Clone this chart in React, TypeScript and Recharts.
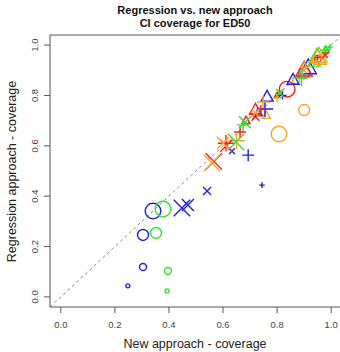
import React from 'react';
import { ScatterChart, Scatter, XAxis, YAxis, ReferenceLine } from 'recharts';

type Pt = { x: number; y: number; k: number };

// tick values on both axes
const axisTicks = [0, 0.2, 0.4, 0.6, 0.8, 1.0];

// k = marker size level (1 smallest .. 4 largest)
const blueCircle: Pt[] = [
  { x: 0.341, y: 0.341, k: 4 },
  { x: 0.304, y: 0.246, k: 3 },
  { x: 0.304, y: 0.119, k: 2 },
  { x: 0.248, y: 0.044, k: 1 },
];
const greenCircle: Pt[] = [
  { x: 0.378, y: 0.349, k: 4 },
  { x: 0.352, y: 0.254, k: 3 },
  { x: 0.396, y: 0.103, k: 2 },
  { x: 0.393, y: 0.024, k: 1 },
];
const orangeCircle: Pt[] = [
  { x: 0.807, y: 0.647, k: 4 },
  { x: 0.9, y: 0.742, k: 3 },
  { x: 0.87, y: 0.86, k: 2 },
  { x: 0.811, y: 0.81, k: 1 },
];
const redCircle: Pt[] = [
  { x: 0.837, y: 0.825, k: 4 },
  { x: 0.9, y: 0.89, k: 3 },
  { x: 0.95, y: 0.945, k: 2 },
  { x: 0.985, y: 0.975, k: 1 },
];

const blueCross: Pt[] = [
  { x: 0.448, y: 0.353, k: 4 },
  { x: 0.47, y: 0.365, k: 3 },
  { x: 0.541, y: 0.421, k: 2 },
  { x: 0.633, y: 0.579, k: 1 },
];
const greenCross: Pt[] = [
  { x: 0.648, y: 0.615, k: 4 },
  { x: 0.681, y: 0.694, k: 3 },
  { x: 0.81, y: 0.81, k: 2 },
  { x: 0.985, y: 0.985, k: 1 },
];
const redCross: Pt[] = [
  { x: 0.566, y: 0.538, k: 4 },
  { x: 0.612, y: 0.6, k: 3 },
  { x: 0.72, y: 0.715, k: 2 },
  { x: 0.978, y: 0.96, k: 1 },
];
const orangeCross: Pt[] = [
  { x: 0.559, y: 0.532, k: 4 },
  { x: 0.6, y: 0.611, k: 3 },
  { x: 0.72, y: 0.73, k: 2 },
  { x: 0.9, y: 0.9, k: 1 },
];

const bluePlus: Pt[] = [
  { x: 0.755, y: 0.746, k: 4 },
  { x: 0.693, y: 0.563, k: 3 },
  { x: 0.82, y: 0.8, k: 2 },
  { x: 0.744, y: 0.444, k: 1 },
];
const greenPlus: Pt[] = [
  { x: 0.89, y: 0.87, k: 4 },
  { x: 0.674, y: 0.683, k: 3 },
  { x: 0.975, y: 0.98, k: 2 },
  { x: 0.996, y: 0.992, k: 1 },
];
const redPlus: Pt[] = [
  { x: 0.611, y: 0.61, k: 4 },
  { x: 0.663, y: 0.655, k: 3 },
  { x: 0.74, y: 0.745, k: 2 },
  { x: 0.95, y: 0.95, k: 1 },
];
const orangePlus: Pt[] = [
  { x: 0.65, y: 0.62, k: 4 },
  { x: 0.748, y: 0.774, k: 3 },
  { x: 0.8, y: 0.79, k: 2 },
  { x: 0.93, y: 0.935, k: 1 },
];

const blueTriangle: Pt[] = [
  { x: 0.915, y: 0.909, k: 4 },
  { x: 0.859, y: 0.861, k: 3 },
  { x: 0.763, y: 0.794, k: 3 },
  { x: 0.73, y: 0.73, k: 2 },
];
const greenTriangle: Pt[] = [
  { x: 0.948, y: 0.952, k: 4 },
  { x: 0.937, y: 0.933, k: 3 },
  { x: 0.89, y: 0.88, k: 2 },
  { x: 0.98, y: 0.985, k: 1 },
];
const redTriangle: Pt[] = [
  { x: 0.9, y: 0.9, k: 4 },
  { x: 0.72, y: 0.742, k: 3 },
  { x: 0.685, y: 0.7, k: 2 },
  { x: 0.8, y: 0.8, k: 1 },
];
const orangeTriangle: Pt[] = [
  { x: 0.955, y: 0.955, k: 4 },
  { x: 0.959, y: 0.94, k: 3 },
  { x: 0.76, y: 0.72, k: 2 },
  { x: 0.9, y: 0.92, k: 1 },
];

const BLUE = '#1f1fe0';
const GREEN = '#33e033';
const RED = '#f02020';
const ORANGE = '#f5a623';

const circleSizes = [0, 2, 3.5, 5.5, 7.8];
const lineSizes = [0, 2.8, 4, 6, 8.2];
const FONT = '"Liberation Sans", Arial, sans-serif';

const makeShape = (kind: string, color: string) => (props: any) => {
  const { cx, cy, payload } = props;
  const common = { stroke: color, strokeWidth: 1.4, fill: 'none' };
  if (kind === 'circle') return <circle cx={cx} cy={cy} r={circleSizes[payload.k]} {...common} />;
  const h = lineSizes[payload.k];
  if (kind === 'cross') {
    return (
      <path d={`M${cx - h},${cy - h}L${cx + h},${cy + h}M${cx - h},${cy + h}L${cx + h},${cy - h}`} {...common} />
    );
  }
  if (kind === 'plus') {
    return <path d={`M${cx - h},${cy}L${cx + h},${cy}M${cx},${cy - h}L${cx},${cy + h}`} {...common} />;
  }
  return (
    <path d={`M${cx},${cy - h * 1.1}L${cx + h},${cy + h * 0.7}L${cx - h},${cy + h * 0.7}Z`} {...common} />
  );
};

const seriesList = [
  { name: 'bc', data: blueCircle, kind: 'circle', color: BLUE },
  { name: 'gc', data: greenCircle, kind: 'circle', color: GREEN },
  { name: 'oc', data: orangeCircle, kind: 'circle', color: ORANGE },
  { name: 'rc', data: redCircle, kind: 'circle', color: RED },
  { name: 'bt', data: blueTriangle, kind: 'triangle', color: BLUE },
  { name: 'gt', data: greenTriangle, kind: 'triangle', color: GREEN },
  { name: 'rt', data: redTriangle, kind: 'triangle', color: RED },
  { name: 'ot', data: orangeTriangle, kind: 'triangle', color: ORANGE },
  { name: 'bp', data: bluePlus, kind: 'plus', color: BLUE },
  { name: 'gp', data: greenPlus, kind: 'plus', color: GREEN },
  { name: 'rp', data: redPlus, kind: 'plus', color: RED },
  { name: 'op', data: orangePlus, kind: 'plus', color: ORANGE },
  { name: 'bx', data: blueCross, kind: 'cross', color: BLUE },
  { name: 'gx', data: greenCross, kind: 'cross', color: GREEN },
  { name: 'rx', data: redCross, kind: 'cross', color: RED },
  { name: 'ox', data: orangeCross, kind: 'cross', color: ORANGE },
];

const YTick = ({ x, y, payload }: any) => (
  <text
    x={x - 7}
    y={y}
    transform={`rotate(-90, ${x - 7}, ${y})`}
    textAnchor="middle"
    dominantBaseline="central"
    fontSize={9.5}
    fontFamily={FONT}
    fill="#444"
  >
    {Number(payload.value).toFixed(1)}
  </text>
);

export default function App() {
  return (
    <div style={{ position: 'absolute', left: 0, top: 0, width: 340, height: 352, overflow: 'hidden', background: '#fff', fontFamily: FONT }}>
      <div style={{ position: 'absolute', left: 25, top: 4, width: 340, textAlign: 'center', fontSize: 11, fontWeight: 'bold', lineHeight: '13px', color: '#111' }}>
        Regression vs. new approach
        <br />
        CI coverage for ED50
      </div>
      <div style={{ position: 'absolute', left: 25, top: 337, width: 340, textAlign: 'center', fontSize: 12.5, lineHeight: '15px', color: '#222' }}>
        New approach - coverage
      </div>
      <div
        style={{
          position: 'absolute',
          left: 12 - 110,
          top: 171 - 7.5,
          width: 220,
          textAlign: 'center',
          fontSize: 12.5,
          lineHeight: '15px',
          color: '#222',
          transform: 'rotate(-90deg)',
        }}
      >
        Regression approach - coverage
      </div>
      <div style={{ position: 'absolute', left: 0, top: 0 }}>
        <ScatterChart width={345} height={352} margin={{ top: 35, right: 3, bottom: 0, left: 0 }}>
          <XAxis
            type="number"
            dataKey="x"
            domain={[-0.04, 1.04]}
            ticks={axisTicks}
            allowDataOverflow
            height={45}
            tickSize={6}
            tickMargin={8}
            tickFormatter={(v: number) => v.toFixed(1)}
            tick={{ fontSize: 9.5, fill: '#444', fontFamily: FONT }}
            stroke="#555"
          />
          <YAxis
            type="number"
            dataKey="y"
            domain={[-0.04, 1.04]}
            ticks={axisTicks}
            allowDataOverflow
            width={50}
            tickSize={6}
            tick={<YTick />}
            stroke="#555"
          />
          <ReferenceLine y={1.04} stroke="#555" ifOverflow="visible" />
          <ReferenceLine
            segment={[
              { x: -0.04, y: -0.04 },
              { x: 1.04, y: 1.04 },
            ]}
            stroke="#888"
            strokeDasharray="3 3"
            ifOverflow="visible"
          />
          {seriesList.map((s) => (
            <Scatter
              key={s.name}
              name={s.name}
              data={s.data}
              shape={makeShape(s.kind, s.color)}
              isAnimationActive={false}
            />
          ))}
        </ScatterChart>
      </div>
    </div>
  );
}
